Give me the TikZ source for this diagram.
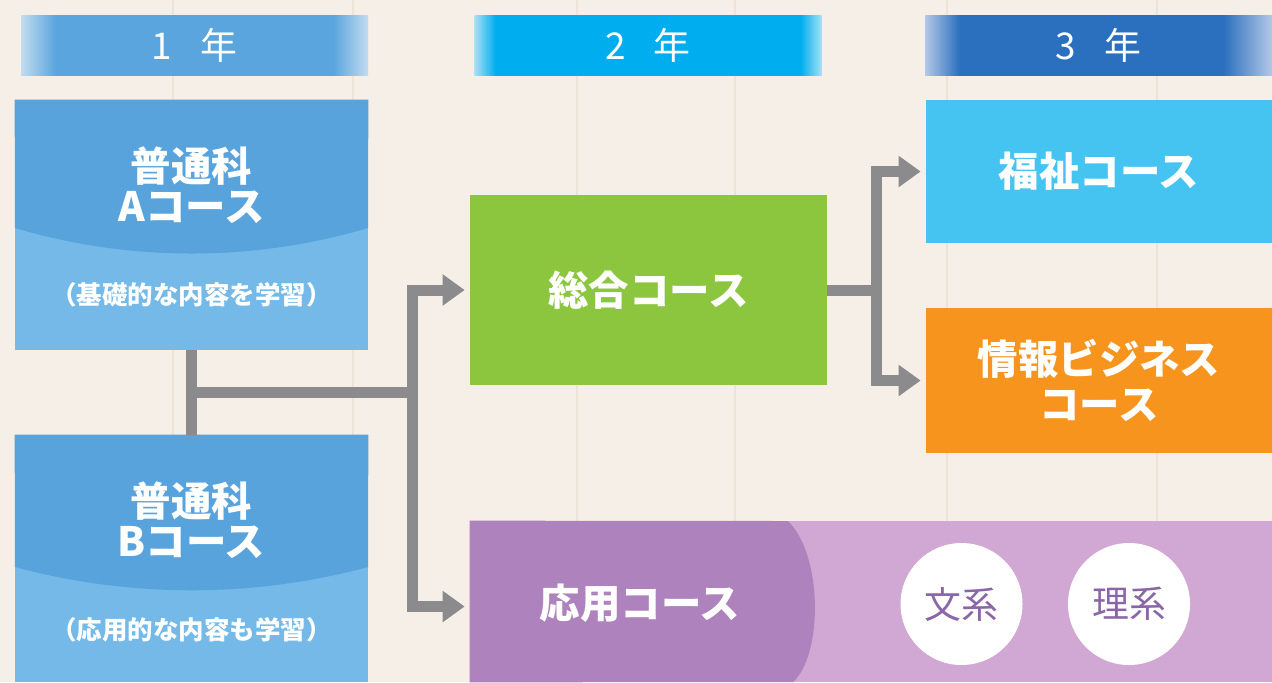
\documentclass[tikz,border=0pt]{standalone}
\usepackage{fontspec}
\setmainfont{Noto Sans CJK JP}
\usetikzlibrary{arrows.meta}

\definecolor{bg}{HTML}{F6EFE7}
\definecolor{plank}{HTML}{EDE3D8}
\definecolor{yearone}{HTML}{5AA5DD}
\definecolor{yearoneedge}{HTML}{C2DCF0}
\definecolor{yeartwo}{HTML}{00AEEF}
\definecolor{yeartwoedge}{HTML}{A8E0F5}
\definecolor{yearthree}{HTML}{2B70BE}
\definecolor{yearthreeedge}{HTML}{B3C8E6}
\definecolor{bluedark}{HTML}{58A3DC}
\definecolor{bluelight}{HTML}{74B9E7}
\definecolor{sogo}{HTML}{8CC63F}
\definecolor{fukushi}{HTML}{45C4F2}
\definecolor{joho}{HTML}{F7941D}
\definecolor{purpledark}{HTML}{AE82BD}
\definecolor{purplelight}{HTML}{D1A7D3}
\definecolor{ringtext}{HTML}{8A66A8}
\definecolor{conngray}{HTML}{8B8B8D}

\pgfdeclarehorizontalshading{barone}{100bp}{color(0bp)=(yearoneedge); color(25bp)=(yearoneedge);
  color(30bp)=(yearone); color(70bp)=(yearone); color(75bp)=(yearoneedge); color(100bp)=(yearoneedge)}
\pgfdeclarehorizontalshading{bartwo}{100bp}{color(0bp)=(yeartwoedge); color(25bp)=(yeartwoedge);
  color(28bp)=(yeartwo); color(72bp)=(yeartwo); color(75bp)=(yeartwoedge); color(100bp)=(yeartwoedge)}
\pgfdeclarehorizontalshading{barthree}{100bp}{color(0bp)=(yearthreeedge); color(25bp)=(yearthreeedge);
  color(30bp)=(yearthree); color(68bp)=(yearthree); color(75bp)=(yearthreeedge); color(100bp)=(yearthreeedge)}

\begin{document}
\begin{tikzpicture}[
yearbar/.style={
rectangle,
shade,
minimum width=6.94cm,
minimum height=1.2cm,
text=white,
font=\fontsize{21}{21}\selectfont},
block/.style={
rectangle,
inner sep=0pt},
title/.style={
text=white,
align=center,
font=\fontsize{23}{23}\selectfont\bfseries},
note/.style={
text=white,
font=\fontsize{14.5}{15}\selectfont\bfseries},
ring/.style={
circle,
fill=white,
minimum size=2.44cm,
text=ringtext,
font=\fontsize{21}{21}\selectfont},
conn/.style={
draw=conngray,
line width=0.22cm},
arr/.style={
-{Triangle[length=0.44cm,width=0.6cm]},
shorten >=0.1cm}
]

\useasboundingbox (0,0) rectangle (25.44,-13.64);
\fill[bg] (0,0) rectangle (25.44,-13.64);
\foreach \x in {3.46,7.06,11.54,14.70,18.94,23.14}
  \draw[plank, line width=0.7pt] (\x,0) -- (\x,-13.64);

\draw (3.89,-0.9)node[yearbar, shading=barone](year1){1\hspace{.75em}年};
\draw (12.96,-0.9)node[yearbar, shading=bartwo](year2){2\hspace{.75em}年};
\draw (21.97,-0.9)node[yearbar, shading=barthree](year3){3\hspace{.75em}年};

\draw (3.83,-4.5)node[block, fill=bluelight, minimum width=7.06cm, minimum height=5cm](boxA){};
\fill[bluedark] (boxA.north west) -- (boxA.north east) -- (7.36,-4.56) .. controls (5.06,-5.24) and (2.6,-5.24) .. (0.30,-4.56) -- cycle;
\draw (3.83,-3.7)node[title](titleA){普通科\\Aコース};
\draw (3.83,-5.9)node[note](noteA){（基礎的な内容を学習）};

\draw (3.83,-11.17)node[block, fill=bluelight, minimum width=7.06cm, minimum height=4.94cm](boxB){};
\fill[bluedark] (boxB.north west) -- (boxB.north east) -- (7.36,-11.34) .. controls (5.06,-11.96) and (2.6,-11.96) .. (0.30,-11.34) -- cycle;
\draw (3.83,-10.4)node[title](titleB){普通科\\Bコース};
\draw (3.83,-12.6)node[note](noteB){（応用的な内容も学習）};

\draw (12.97,-5.8)node[block, title, fill=sogo, minimum width=7.14cm, minimum height=3.8cm](sogo){総合コース};
\draw (21.98,-3.43)node[block, title, fill=fukushi, minimum width=6.92cm, minimum height=2.86cm](fukushi){福祉コース};
\draw (21.98,-7.61)node[block, title, fill=joho, minimum width=6.92cm, minimum height=2.9cm,
  font=\fontsize{23}{26}\selectfont\bfseries](joho){情報ビジネス\\コース};

\draw (17.42,-12.03)node[block, fill=purplelight, minimum width=16.04cm, minimum height=3.22cm](oyo){};
\fill[purpledark] (oyo.north west) -- (15.76,-10.42) .. controls (16.46,-11.1) and (16.46,-13.1) .. (15.86,-13.64) -- (oyo.south west) -- cycle;
\draw (12.8,-12.06)node[title](oyotext){応用コース};
\draw (19.23,-12.08)node[ring](bunkei){文系};
\draw (22.58,-12.08)node[ring](rikei){理系};

\coordinate (fork1) at (8.24,-7.84);
\coordinate (fork2) at (17.52,-5.8);
\draw[conn] (boxA.south) -- (boxB.north);
\draw[conn] (boxA.south |- fork1) -- (fork1);
\draw[conn, arr] (fork1) |- (sogo.west);
\draw[conn, arr] (fork1) |- ([yshift=-0.1cm]oyo.west);
\draw[conn] (sogo.east) -- (fork2);
\draw[conn, arr] (fork2) |- (fukushi.west);
\draw[conn, arr] (fork2) |- (joho.west);

\end{tikzpicture}
\end{document}
